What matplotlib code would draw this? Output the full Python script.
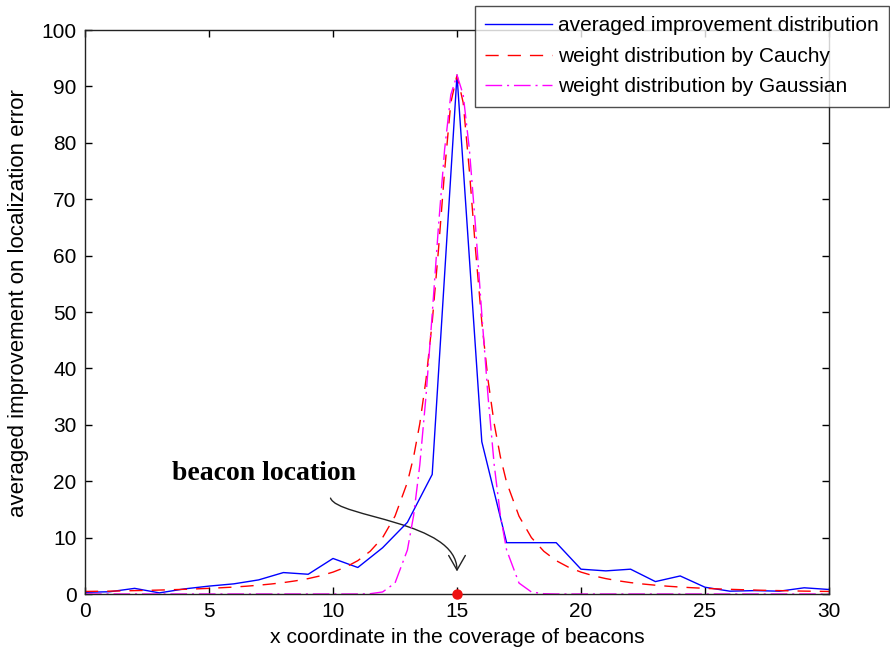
import matplotlib
matplotlib.use("Agg")
import matplotlib.pyplot as plt
from matplotlib.path import Path
from matplotlib.patches import FancyArrowPatch

plt.rcParams['font.family'] = ['Liberation Sans', 'DejaVu Sans']

# measured averaged improvement (integer x positions)
x_meas = list(range(0, 31))
improvement = [0.3, 0.4, 1.0, 0.2, 0.9, 1.4, 1.8, 2.5, 3.8, 3.5,
               6.3, 4.7, 8.2, 12.7, 21.2, 92.0, 27.0, 9.1, 9.1, 9.1,
               4.4, 4.1, 4.4, 2.2, 3.2, 1.2, 0.5, 0.6, 0.5, 1.1, 0.8]

# weight curves sampled on a finer grid
x_curve = [0, 0.5, 1, 1.5, 2, 2.5, 3, 3.5, 4, 4.5, 5, 5.5, 6, 6.5, 7, 7.5,
           8, 8.5, 9, 9.5, 10, 10.5, 11, 11.5, 12, 12.5, 13, 13.25, 13.5,
           13.75, 14, 14.25, 14.5, 14.75, 15, 15.25, 15.5, 15.75, 16, 16.25,
           16.5, 16.75, 17, 17.5, 18, 18.5, 19, 19.5, 20, 20.5, 21, 21.5,
           22, 22.5, 23, 23.5, 24, 24.5, 25, 25.5, 26, 26.5, 27, 27.5, 28,
           28.5, 29, 29.5, 30]
cauchy = [0.45, 0.48, 0.51, 0.55, 0.60, 0.64, 0.70, 0.76, 0.83, 0.91, 1.00,
          1.11, 1.23, 1.38, 1.56, 1.77, 2.02, 2.34, 2.73, 3.23, 3.88, 4.74,
          5.91, 7.58, 10.0, 13.8, 19.8, 24.3, 30.2, 38.0, 48.2, 60.9, 75.0,
          87.1, 92.0, 87.1, 75.0, 60.9, 48.2, 38.0, 30.2, 24.3, 19.8, 13.8,
          10.0, 7.58, 5.91, 4.74, 3.88, 3.23, 2.73, 2.34, 2.02, 1.77, 1.56,
          1.38, 1.23, 1.11, 1.00, 0.91, 0.83, 0.76, 0.70, 0.64, 0.60, 0.55,
          0.51, 0.48, 0.45]
gaussian = [0, 0, 0, 0, 0, 0, 0, 0, 0, 0, 0, 0, 0, 0, 0, 0, 0, 0, 0, 0, 0,
            0, 0, 0.05, 0.36, 1.94, 7.8, 13.9, 22.9, 35.1, 49.6, 65.0, 78.8,
            88.5, 92.0, 88.5, 78.8, 65.0, 49.6, 35.1, 22.9, 13.9, 7.8, 1.94,
            0.36, 0.05, 0, 0, 0, 0, 0, 0, 0, 0, 0, 0, 0, 0, 0, 0, 0, 0, 0,
            0, 0, 0, 0, 0, 0]

beacon_x = [15]
beacon_y = [0]

legend_labels = ['averaged improvement distribution',
                 'weight distribution by Cauchy',
                 'weight distribution by Gaussian']
x_ticks = [0, 5, 10, 15, 20, 25, 30]
y_ticks = [0, 10, 20, 30, 40, 50, 60, 70, 80, 90, 100]

fig = plt.figure(figsize=(8.9, 6.57), dpi=100)
ax = fig.add_axes([85/890, 63/657, 744/890, 564/657])

l1, = ax.plot(x_meas, improvement, color='#0000ff', lw=1.0, label=legend_labels[0])
l2, = ax.plot(x_curve, cauchy, color='#ff0000', lw=1.0, dashes=(9.5, 6.5), label=legend_labels[1])
l3, = ax.plot(x_curve, gaussian, color='#ff00ff', lw=1.0, dashes=(12, 3.5, 1.5, 3.5), label=legend_labels[2])
ax.plot(beacon_x, beacon_y, 'o', color='#ee1111', ms=6.5, clip_on=False, zorder=5)

ax.set_xlim(0, 30)
ax.set_ylim(0, 100)
ax.set_xticks(x_ticks)
ax.set_yticks(y_ticks)
ax.tick_params(direction='in', length=5, width=1, top=True, right=True,
               labelsize=15, pad=6)
for s in ax.spines.values():
    s.set_linewidth(1.0)
    s.set_color('#222222')

ax.set_xlabel('x coordinate in the coverage of beacons', fontsize=15.2, labelpad=5)
ax.set_ylabel('averaged improvement on localization error', fontsize=16)
ax.yaxis.set_label_coords(-0.075, 0.515)

# annotation
ax.text(3.5, 21.3, 'beacon location', family=['Liberation Serif', 'DejaVu Serif'],
        fontweight='bold', fontsize=20, ha='left', va='center')
verts = [(9.9, 17.0), (10.2, 13.5), (15.0, 13.0), (15.0, 4.0)]
codes = [Path.MOVETO, Path.CURVE4, Path.CURVE4, Path.CURVE4]
arrow = FancyArrowPatch(path=Path(verts, codes), arrowstyle='->,head_length=7,head_width=4',
                        color='#222222', lw=1.0, mutation_scale=1.5)
ax.add_patch(arrow)

leg = fig.legend(handles=[l1, l2, l3], loc='upper right',
                 bbox_to_anchor=(889/890, 1 - 6/657), fontsize=15,
                 handlelength=3.2, handletextpad=0.3, borderpad=0.5,
                 labelspacing=0.55, frameon=True, fancybox=False,
                 edgecolor='#222222', borderaxespad=0)
leg.get_frame().set_linewidth(1.0)

fig.savefig('out.png', dpi=100)
